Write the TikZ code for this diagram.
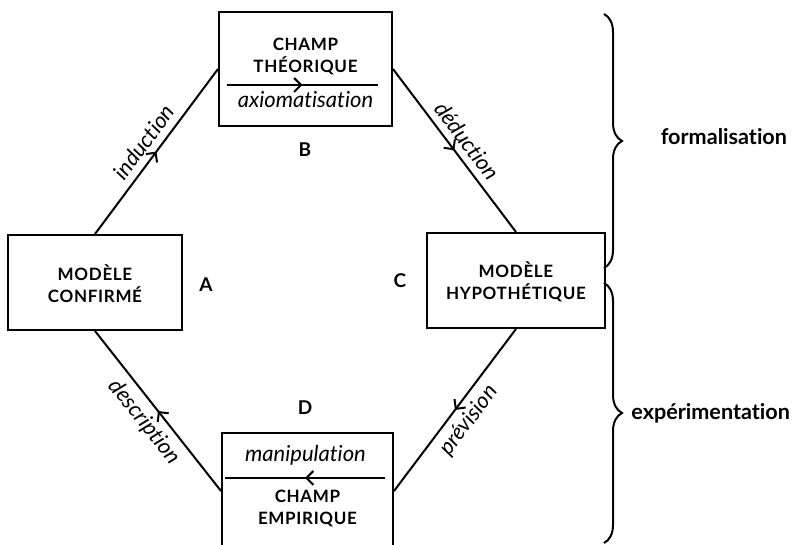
\documentclass[tikz,border=0pt]{standalone}
\usepackage{fontspec}
\setmainfont{Lato}[Ligatures=NoCommon]
\newfontfamily\capsfont[LetterSpace=4]{Lato}
\usetikzlibrary{arrows.meta,decorations.markings,decorations.pathreplacing}

\begin{document}
\begin{tikzpicture}[x=0.5pt, y=-0.5pt, line width=1pt,
    boite/.style={draw, line width=1pt, inner sep=0pt},
    majus/.style={font=\capsfont\bfseries\fontsize{8.5}{11}\selectfont, align=center},
    ital/.style={font=\itshape\fontsize{11}{13}\selectfont},
    lettre/.style={font=\bfseries\fontsize{9.5}{11}\selectfont, anchor=base},
    titre/.style={font=\bfseries\fontsize{10.8}{13}\selectfont, anchor=base east, inner sep=0pt},
    fleche/.style={decoration={markings, mark=at position 0.5 with {\arrow{Straight Barb[length=3.5pt,width=7pt]}}}, postaction={decorate}},
    accolade/.style={decorate, decoration={brace, amplitude=9pt}}]
  \useasboundingbox (0,0) rectangle (794,545);

  % Les boites
  \node[boite, minimum width=86.5pt, minimum height=57pt] (B) at (305.5,69) {};
  \node[boite, minimum width=87pt, minimum height=47.5pt] (A) at (95,282.5) {};
  \node[boite, minimum width=89pt, minimum height=47.5pt] (C) at (516,280.5) {};
  \node[boite, minimum width=85.5pt, minimum height=58pt] (D) at (307.5,491) {};

  % Champ theorique
  \node[majus] (Btxt) at (305.5,56) {CHAMP\\THÉORIQUE};
  \coordinate (Bg) at (227,85);
  \coordinate (Bd) at (378,85);
  \draw[fleche] (Bg) -- (Bd);
  \node[ital, anchor=base] (Bax) at (305.5,108) {axiomatisation};

  % Champ empirique
  \node[ital, anchor=base] (Dman) at (305.5,462) {manipulation};
  \coordinate (Dd) at (385,478);
  \coordinate (Dg) at (225,478);
  \draw[fleche] (Dd) -- (Dg);
  \node[majus] (Dtxt) at (307.5,508) {CHAMP\\EMPIRIQUE};

  % Modeles
  \node[majus] (Atxt) at (95,284) {MODÈLE\\CONFIRMÉ};
  \node[majus] (Ctxt) at (516,282) {MODÈLE\\HYPOTHÉTIQUE};

  % Lettres
  \node[lettre] (lA) at (206,292) {A};
  \node[lettre] (lB) at (305,157) {B};
  \node[lettre] (lC) at (400,288) {C};
  \node[lettre] (lD) at (305,415) {D};

  % Le cycle
  \draw[fleche] (A.north) -- node[ital, midway, sloped, above] {induction} (B.west);
  \draw[fleche] (B.east) -- node[ital, midway, sloped, above] {déduction} (C.north);
  \draw[fleche] (C.south) -- node[ital, midway, sloped, below] {prévision} (D.east);
  \draw[fleche] (D.west) -- node[ital, midway, sloped, below] {description} (A.south);

  % Accolades
  \coordinate (f1) at (604,14);
  \coordinate (f2) at (604,268);
  \draw[accolade] (f1) -- (f2);
  \node[titre] (form) at (788,145) {formalisation};
  \coordinate (e1) at (604,283);
  \coordinate (e2) at (604,543);
  \draw[accolade] (e1) -- (e2);
  \node[titre] (expe) at (791,420) {expérimentation};
\end{tikzpicture}
\end{document}
